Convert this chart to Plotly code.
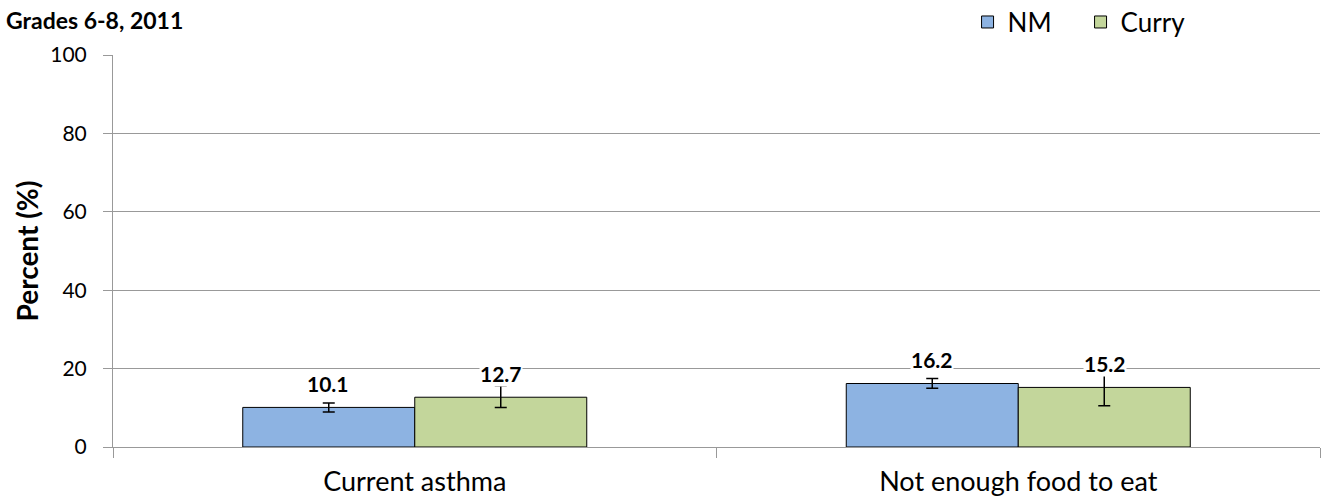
import plotly.graph_objects as go

categories = ["Current asthma", "Not enough food to eat"]
nm_values = [10.1, 16.2]
nm_lower = [8.9, 15.0]
nm_upper = [11.2, 17.5]
curry_values = [12.7, 15.2]
curry_lower = [10.1, 10.5]
curry_upper = [15.6, 20.0]
y_ticks = [0, 20, 40, 60, 80, 100]

FONT = "Lato"

def err(vals, lo, hi):
    return dict(type="data", symmetric=False,
                array=[h - v for v, h in zip(vals, hi)],
                arrayminus=[v - l for v, l in zip(vals, lo)],
                color="black", thickness=1.5, width=6)

fig = go.Figure()
fig.add_trace(go.Bar(name="NM", x=categories, y=nm_values, offsetgroup="nm",
                     marker=dict(color="#8DB3E2", line=dict(color="black", width=1)),
                     error_y=err(nm_values, nm_lower, nm_upper)))
fig.add_trace(go.Bar(name="Curry", x=categories, y=curry_values, offsetgroup="curry",
                     marker=dict(color="#C3D69B", line=dict(color="black", width=1)),
                     error_y=err(curry_values, curry_lower, curry_upper)))

annotations = []
for i, c in enumerate(categories):
    for vals, shift in ((nm_values, -0.143), (curry_values, 0.143)):
        annotations.append(dict(x=i + shift, y=vals[i], xref="x", yref="y",
                                text="<b>%.1f</b>" % vals[i], showarrow=False,
                                yshift=24, bgcolor="white", borderpad=0,
                                font=dict(family=FONT, size=21, color="black")))
annotations.append(dict(x=0, y=1, xref="paper", yref="paper", xanchor="left",
                        yanchor="middle", text="<b>Grades 6-8, 2011</b>",
                        showarrow=False, xshift=-109, yshift=35,
                        font=dict(family=FONT, size=23, color="black")))

fig.update_layout(
    width=1322, height=504,
    margin=dict(l=113, r=2, t=55, b=57, autoexpand=False),
    paper_bgcolor="white", plot_bgcolor="white",
    barmode="group", bargap=0.43, bargroupgap=0,
    font=dict(family=FONT, size=16, color="black"),
    legend=dict(orientation="h", x=0.708, y=1.084, xanchor="left", yanchor="middle",
                font=dict(family=FONT, size=26), itemwidth=30, entrywidthmode="pixels",
                entrywidth=68, traceorder="normal"),
    annotations=annotations,
    xaxis=dict(showline=True, linecolor="#999999", linewidth=1, ticks="outside",
               tickson="boundaries", ticklen=10, tickcolor="#999999",
               ticklabelstandoff=11,
               tickfont=dict(family=FONT, size=27)),
    yaxis=dict(range=[0, 100], tickvals=y_ticks, showgrid=True, gridcolor="#999999",
               gridwidth=1, showline=True, linecolor="#999999", ticks="outside",
               ticklen=9, tickcolor="#999999", zeroline=False, ticklabelstandoff=12,
               tickfont=dict(family=FONT, size=21),
               title=dict(text="<b>Percent (%)</b>", font=dict(family=FONT, size=28),
                          standoff=3)),
)
fig.write_html("out.html", config={"displayModeBar": False},
               post_script="document.body.style.margin='0';")
